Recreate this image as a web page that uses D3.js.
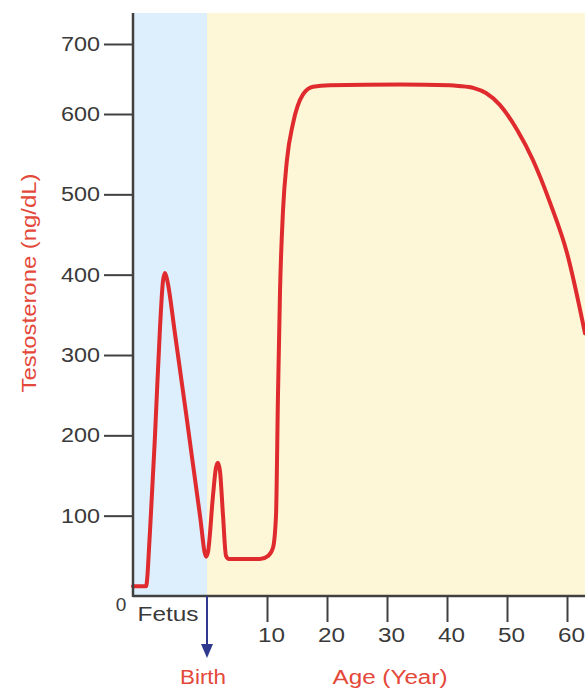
<!DOCTYPE html>
<html>
<head>
<meta charset="utf-8">
<script src="https://cdn.jsdelivr.net/npm/d3@7"></script>
<style>
  html, body { margin: 0; padding: 0; background: #ffffff; }
  svg { display: block; }
  text { font-family: "Liberation Sans", Arial, sans-serif; }
</style>
</head>
<body>
<svg id="chart" width="585" height="688"></svg>
<script>
// ---- data (ages in years; negative = before birth) ----
const ages = [-0.75, -0.618, -0.578, -0.527, -0.476, -0.446, -0.426, -0.405, -0.324, -0.203, -0.071, -0.010,
  0.17, 1.0, 1.5, 1.83, 2.17, 2.67, 3.17, 3.67, 8.83, 10.2, 11.0, 11.5, 11.83, 12.17, 12.67, 13.33, 14.33,
  16.0, 17.67, 20.5, 32.2, 40.5, 42.0, 44.5, 46.5, 48.8, 51.7, 54.3, 57.2, 60.0, 63.0];
const testosterone = [12, 12, 80, 200, 335, 392, 402, 394, 326, 219, 100, 49,
  55, 125, 160, 166, 155, 100, 50, 46, 46, 50, 60, 100, 250, 380, 480, 543, 588,
  628, 639, 641, 642, 641, 640, 637, 630, 613, 580, 543, 489, 427, 327];
const yTicks = [100, 200, 300, 400, 500, 600, 700];
const xTicks = [10, 20, 30, 40, 50, 60];
const yTitle = "Testosterone (ng/dL)";
const xTitle = "Age (Year)";
const fetusLabel = "Fetus";
const birthLabel = "Birth";
const zeroLabel = "0";

const svg = d3.select("#chart");
const x = d3.scaleLinear().domain([-0.75, 0, 63]).range([133, 207, 585]);
const y = d3.scaleLinear().domain([0, 600, 700]).range([596, 114, 44]);
const plotTop = 13;

// background periods
svg.append("rect").attr("x", x(-0.75)).attr("y", plotTop)
  .attr("width", x(0) - x(-0.75)).attr("height", y(0) - plotTop).attr("fill", "#ddeffc");
svg.append("rect").attr("x", x(0)).attr("y", plotTop)
  .attr("width", x(63) - x(0)).attr("height", y(0) - plotTop).attr("fill", "#fdf7d8");

// curve
const line = d3.line().x((d, i) => x(ages[i])).y(d => y(d)).curve(d3.curveMonotoneX);
svg.append("path").datum(testosterone).attr("d", line)
  .attr("fill", "none").attr("stroke", "#df2a2e").attr("stroke-width", 4)
  .attr("stroke-linejoin", "round").attr("stroke-linecap", "round");

const textColor = "#3a3a3a";
const axisColor = "#404040";
const red = "#e4483a";

// y axis
const yAxis = svg.append("g").attr("transform", `translate(${x(-0.75)},0)`)
  .call(d3.axisLeft(y).tickValues(yTicks).tickSize(29).tickPadding(4).tickSizeOuter(0));
yAxis.select(".domain").remove();
yAxis.selectAll(".tick line").attr("stroke", axisColor).attr("stroke-width", 2);
yAxis.selectAll(".tick text").attr("fill", textColor).style("font-size", "20px")
  .attr("textLength", d => String(d).length * 13).attr("lengthAdjust", "spacingAndGlyphs");
svg.append("line").attr("x1", x(-0.75)).attr("x2", x(-0.75)).attr("y1", plotTop).attr("y2", y(0) + 1)
  .attr("stroke", axisColor).attr("stroke-width", 2.5);

// x axis
const xAxis = svg.append("g").attr("transform", `translate(0,${y(0)})`)
  .call(d3.axisBottom(x).tickValues(xTicks).tickSize(26).tickPadding(6).tickSizeOuter(0));
xAxis.select(".domain").remove();
xAxis.selectAll(".tick line").attr("stroke", axisColor).attr("stroke-width", 2);
xAxis.selectAll(".tick text").attr("fill", textColor).style("font-size", "20px")
  .attr("dx", 4)
  .attr("textLength", d => String(d).length * 13.5).attr("lengthAdjust", "spacingAndGlyphs");
svg.append("line").attr("x1", x(-0.75)).attr("x2", x(63)).attr("y1", y(0)).attr("y2", y(0))
  .attr("stroke", axisColor).attr("stroke-width", 2.5);

// birth arrow
const navy = "#2f3a8f";
svg.append("line").attr("x1", x(0)).attr("x2", x(0)).attr("y1", y(0)).attr("y2", y(0) + 50)
  .attr("stroke", navy).attr("stroke-width", 2);
svg.append("path")
  .attr("d", `M${x(0) - 6},${y(0) + 48} L${x(0) + 6},${y(0) + 48} L${x(0)},${y(0) + 62} Z`)
  .attr("fill", navy);

// labels
svg.append("text").attr("x", 121).attr("y", 604).attr("text-anchor", "middle")
  .attr("dominant-baseline", "central").attr("fill", textColor).style("font-size", "19px").text(zeroLabel);
svg.append("text").attr("x", 168).attr("y", 614).attr("text-anchor", "middle")
  .attr("dominant-baseline", "central").attr("fill", textColor).style("font-size", "20px")
  .attr("textLength", 61).attr("lengthAdjust", "spacingAndGlyphs").text(fetusLabel);
svg.append("text").attr("x", 203).attr("y", 677).attr("text-anchor", "middle")
  .attr("dominant-baseline", "central").attr("fill", red).style("font-size", "20px")
  .attr("textLength", 46).attr("lengthAdjust", "spacingAndGlyphs").text(birthLabel);
svg.append("text").attr("x", 390).attr("y", 677).attr("text-anchor", "middle")
  .attr("dominant-baseline", "central").attr("fill", red).style("font-size", "20px")
  .attr("textLength", 115).attr("lengthAdjust", "spacingAndGlyphs").text(xTitle);
svg.append("text").attr("transform", "translate(28,283) rotate(-90)").attr("text-anchor", "middle")
  .attr("dominant-baseline", "central").attr("fill", red).style("font-size", "21px")
  .attr("textLength", 219).attr("lengthAdjust", "spacingAndGlyphs").text(yTitle);
</script>
</body>
</html>
